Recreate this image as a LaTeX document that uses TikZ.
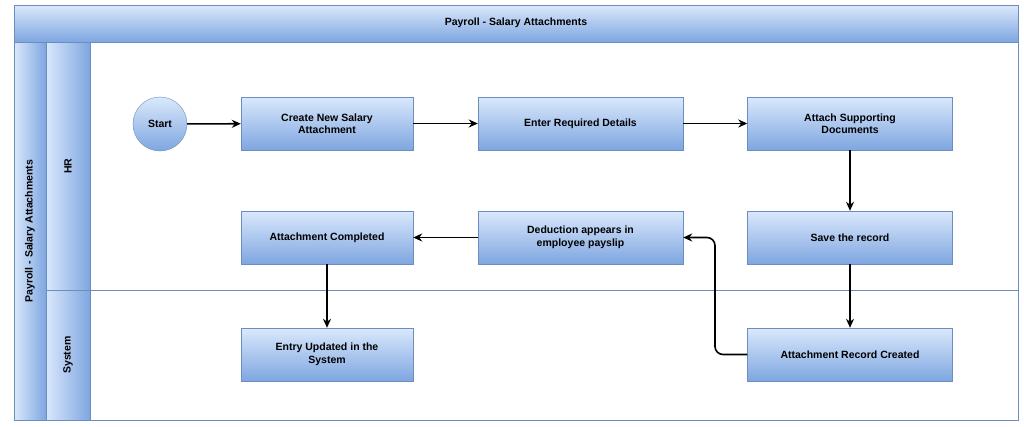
\documentclass[tikz,border=0pt]{standalone}
\usepackage{fontspec}
\setmainfont{Liberation Sans}
\usetikzlibrary{arrows.meta}
\definecolor{bord}{HTML}{6C8EBF}
\definecolor{topc}{HTML}{DAE8FC}
\definecolor{botc}{HTML}{7EA6E0}
\begin{document}
\begin{tikzpicture}[x=1pt,y=-1pt,
  box/.style={draw=bord,top color=topc,bottom color=botc,minimum width=172pt,minimum height=53pt,align=center,font=\fontsize{10.5}{12.5}\selectfont\bfseries,inner sep=1pt},
  wbox/.style={box,minimum width=205pt},
  hdr/.style={draw=bord,top color=topc,bottom color=botc},
  vhdr/.style={draw=bord,left color=topc,right color=botc},
  arr/.style={-{Stealth[length=9pt,width=8pt]},line width=1.6pt,black}]
\useasboundingbox (0,0) rectangle (1024,426);
\fill[white] (0,0) rectangle (1024,426);
% frame
\draw[hdr] (14,5) rectangle (1018,42);
\node[font=\fontsize{10.5}{12}\selectfont\bfseries] (title) at (516,23) {Payroll - Salary Attachments};
\draw[vhdr] (14,42) rectangle (46,420);
\node[rotate=90,font=\fontsize{10.5}{12}\selectfont\bfseries] (pool) at (30,231) {Payroll - Salary Attachments};
\draw[vhdr] (46,42) rectangle (90,290);
\draw[vhdr] (46,290) rectangle (90,420);
\node[rotate=90,font=\fontsize{10.5}{12}\selectfont\bfseries] (hr) at (68,166) {HR};
\node[rotate=90,font=\fontsize{10.5}{12}\selectfont\bfseries] (sys) at (68,355) {System};
\draw[bord] (90,42) rectangle (1018,420);
\draw[bord] (90,290) -- (1018,290);
% nodes
\node[circle,draw=bord,top color=topc,bottom color=botc,minimum size=54pt,inner sep=0pt,font=\fontsize{10.5}{12}\selectfont\bfseries] (start) at (160,124) {Start};
\node[box] (create) at (327,123.5) {Create New Salary\\Attachment};
\node[wbox] (enter) at (580.5,123.5) {Enter Required Details};
\node[wbox] (attach) at (850,123.5) {Attach Supporting\\Documents};
\node[wbox] (save) at (850,237.5) {Save the record};
\node[wbox] (deduct) at (580.5,237.5) {Deduction appears in\\employee payslip};
\node[box] (done) at (327,237.5) {Attachment Completed};
\node[box] (entry) at (327,354.5) {Entry Updated in the\\System};
\node[wbox] (rec) at (850,354.5) {Attachment Record Created};
% edges
\draw[arr] (start) -- (create);
\draw[arr] (create) -- (enter);
\draw[arr] (enter) -- (attach);
\draw[arr] (attach) -- (save);
\draw[arr] (save) -- (rec);
\draw[arr,rounded corners=8pt] (rec.west) -- (715,354.5) -- (715,237.5) -- (deduct.east);
\draw[arr] (deduct) -- (done);
\draw[arr] (done) -- (entry);
\end{tikzpicture}
\end{document}
